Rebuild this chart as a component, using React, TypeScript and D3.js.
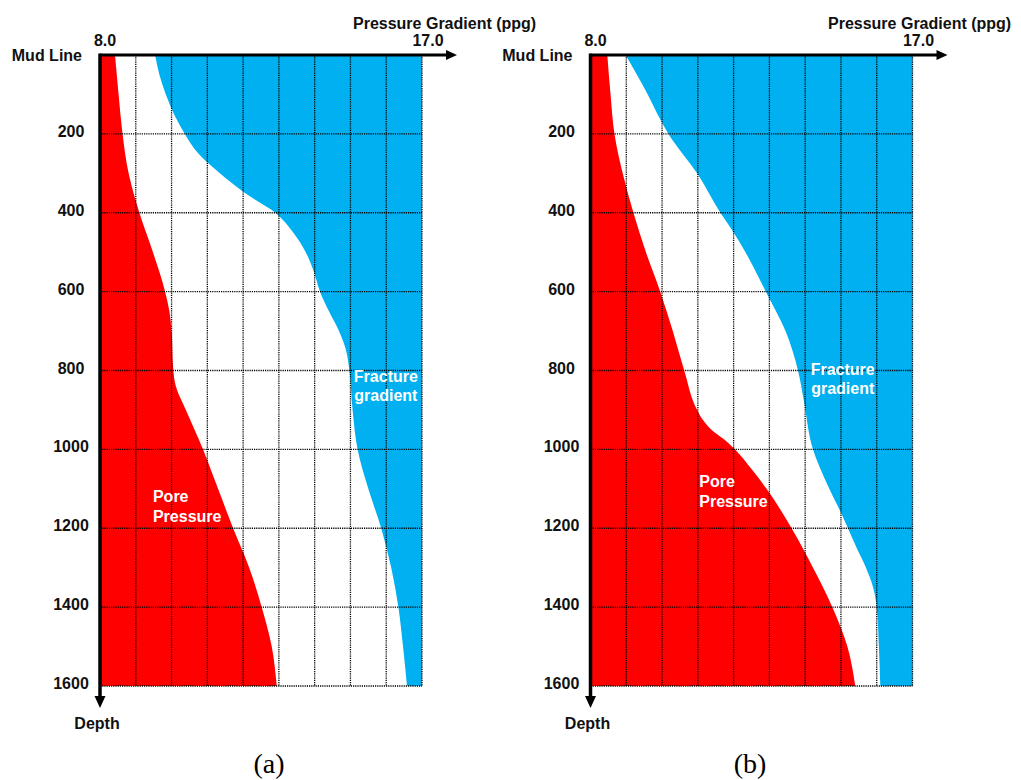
import React from "react";
import * as d3 from "d3";

// ---- Data (depth in ft-like units, pressure gradient in ppg) ----
const poreDepthA = [0, 100, 200, 300, 400, 500, 600, 650, 700, 800, 840, 900, 1000, 1100, 1200, 1300, 1400, 1500, 1600];
const porePpgA = [8.42, 8.52, 8.63, 8.8, 9.1, 9.48, 9.82, 9.94, 10.0, 10.05, 10.12, 10.4, 10.88, 11.3, 11.72, 12.17, 12.52, 12.8, 12.94];

const fracDepthA = [0, 50, 100, 150, 200, 250, 300, 350, 400, 450, 500, 550, 600, 650, 700, 750, 800, 900, 1000, 1100, 1200, 1300, 1400, 1500, 1600];
const fracPpgA = [9.54, 9.66, 9.84, 10.07, 10.37, 10.75, 11.35, 12.05, 12.9, 13.4, 13.75, 13.98, 14.15, 14.4, 14.68, 14.88, 14.97, 15.06, 15.2, 15.5, 15.86, 16.14, 16.34, 16.47, 16.58];

const poreDepthB = [0, 100, 200, 300, 400, 500, 600, 700, 800, 900, 925, 950, 975, 1000, 1050, 1100, 1200, 1300, 1400, 1500, 1600];
const porePpgB = [8.47, 8.56, 8.67, 8.9, 9.2, 9.55, 9.95, 10.3, 10.62, 10.98, 11.14, 11.38, 11.74, 12.04, 12.5, 12.92, 13.62, 14.22, 14.76, 15.18, 15.4];

const fracDepthB = [0, 100, 165, 200, 300, 400, 450, 500, 600, 700, 800, 875, 1000, 1085, 1170, 1250, 1300, 1350, 1400, 1500, 1600];
const fracPpgB = [8.98, 9.6, 9.96, 10.18, 10.98, 11.63, 12.0, 12.33, 12.9, 13.45, 13.8, 13.96, 14.22, 14.6, 15.05, 15.44, 15.7, 15.9, 16.0, 16.06, 16.1];

const depthTicks = [200, 400, 600, 800, 1000, 1200, 1400, 1600];
const ppgGrid = [9, 10, 11, 12, 13, 14, 15, 16, 17];
const ppgMin = 8.0;
const ppgMax = 17.0;
const depthMax = 1600;

const RED = "#FF0000";
const BLUE = "#00B0F0";
const SANS = "'Liberation Sans', Arial, Helvetica, sans-serif";
const SERIF = "'Liberation Serif', 'Times New Roman', serif";

type PanelProps = {
  x0: number;
  poreD: number[];
  poreP: number[];
  fracD: number[];
  fracP: number[];
  titleX: number;
  captionX: number;
  caption: string;
  fracLabel: [number, number];
  poreLabel: [number, number];
};

function Panel(p: PanelProps) {
  const top = 55;
  const bottom = 686;
  const x = d3.scaleLinear().domain([ppgMin, ppgMax]).range([p.x0, p.x0 + 322]);
  const y = d3.scaleLinear().domain([0, depthMax]).range([top, bottom]);

  const edge = d3
    .line<[number, number]>()
    .x((d) => x(d[1]))
    .y((d) => y(d[0]))
    .curve(d3.curveMonotoneY);

  const porePts = p.poreD.map((d, i) => [d, p.poreP[i]] as [number, number]);
  const fracPts = p.fracD.map((d, i) => [d, p.fracP[i]] as [number, number]);

  const redPath =
    (edge(porePts) as string) +
    `L${x(ppgMin)},${y(depthMax)}L${x(ppgMin)},${y(0)}Z`;
  const bluePath =
    (edge(fracPts) as string) +
    `L${x(ppgMax)},${y(depthMax)}L${x(ppgMax)},${y(0)}Z`;

  const xL = x(ppgMin);
  const xR = x(ppgMax);
  const arrowTipX = xR + 35;
  const arrowTipY = 708;

  return (
    <g>
      <path d={redPath} fill={RED} />
      <path d={bluePath} fill={BLUE} />
      {/* grid */}
      {ppgGrid.map((v) => (
        <line
          key={"v" + v}
          x1={x(v)}
          x2={x(v)}
          y1={y(0)}
          y2={y(depthMax)}
          stroke="#000"
          strokeWidth={1.3}
          strokeDasharray="1.2,1"
        />
      ))}
      {depthTicks.map((d) => (
        <line
          key={"h" + d}
          x1={xL}
          x2={xR}
          y1={y(d)}
          y2={y(d)}
          stroke="#000"
          strokeWidth={1.3}
          strokeDasharray="1.2,1"
        />
      ))}
      {/* axes */}
      <line x1={xL} x2={arrowTipX - 9} y1={y(0)} y2={y(0)} stroke="#000" strokeWidth={3} />
      <polygon
        points={`${arrowTipX},${y(0)} ${arrowTipX - 11},${y(0) - 5} ${arrowTipX - 11},${y(0) + 5}`}
        fill="#000"
      />
      <line x1={xL} x2={xL} y1={y(0) - 1.5} y2={arrowTipY - 9} stroke="#000" strokeWidth={3.5} />
      <polygon
        points={`${xL},${arrowTipY} ${xL - 5.5},${arrowTipY - 12} ${xL + 5.5},${arrowTipY - 12}`}
        fill="#000"
      />
      {/* labels */}
      <g fontFamily={SANS} fontWeight="bold" fontSize={16} fill="#111">
        <text x={p.titleX} y={29}>Pressure Gradient (ppg)</text>
        <text x={x(ppgMin) + 5} y={46} textAnchor="middle">8.0</text>
        <text x={x(ppgMax) + 6} y={46} textAnchor="middle">17.0</text>
        <text x={xL - 18} y={y(0) + 6} textAnchor="end">Mud Line</text>
        {depthTicks.map((d) => (
          <text key={"t" + d} x={xL - 29} y={y(d) + 3} textAnchor="middle">
            {d}
          </text>
        ))}
        <text x={xL - 3} y={729} textAnchor="middle">Depth</text>
      </g>
      <g fontFamily={SANS} fontWeight="bold" fontSize={16} fill="#fff">
        <text x={x(p.fracLabel[0])} y={y(p.fracLabel[1])} textAnchor="middle">Fracture</text>
        <text x={x(p.fracLabel[0])} y={y(p.fracLabel[1]) + 19} textAnchor="middle">gradient</text>
        <text x={x(p.poreLabel[0])} y={y(p.poreLabel[1])}>Pore</text>
        <text x={x(p.poreLabel[0])} y={y(p.poreLabel[1]) + 20}>Pressure</text>
      </g>
      <text x={p.captionX} y={773} textAnchor="middle" fontFamily={SERIF} fontSize={28} fill="#000">
        {p.caption}
      </text>
    </g>
  );
}

export default function App() {
  return (
    <svg
      width={1021}
      height={780}
      style={{ position: "absolute", left: 0, top: 0, background: "#fff" }}
    >
      <rect width={1021} height={780} fill="#fff" />
      <Panel
        x0={100}
        poreD={poreDepthA}
        poreP={porePpgA}
        fracD={fracDepthA}
        fracP={fracPpgA}
        titleX={353}
        captionX={269}
        caption="(a)"
        fracLabel={[15.99, 829]}
        poreLabel={[9.48, 1133]}
      />
      <Panel
        x0={590.5}
        poreD={poreDepthB}
        poreP={porePpgB}
        fracD={fracDepthB}
        fracP={fracPpgB}
        titleX={828}
        captionX={750}
        caption="(b)"
        fracLabel={[15.05, 811]}
        poreLabel={[11.04, 1095]}
      />
    </svg>
  );
}
